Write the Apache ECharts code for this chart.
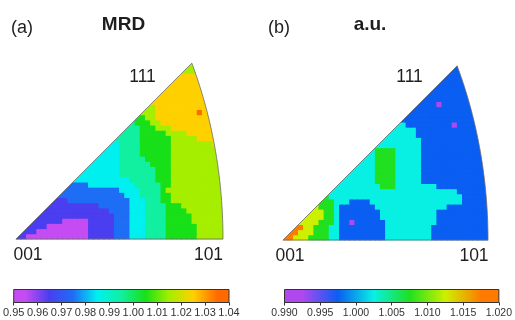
<!DOCTYPE html>
<html><head><meta charset="utf-8">
<script src="https://cdn.jsdelivr.net/npm/echarts@6/dist/echarts.min.js"></script>
<style>html,body{margin:0;padding:0;background:#fff}#c{width:515px;height:320px}</style>
</head><body><div id="c"></div>
<script>
// ---- data: IPF level maps, run-length rows (row 0 = bottom), each row starts at column = row index
// token "LxN" = N cells of level L ; cell size 0.025 in IPF units (001 at 0, 101 at 1)
const ipfA_rows = [
"2x2 1x12 2x5 3x3 4x3 5x4 6x6 7x5",
"2x3 1x10 2x5 3x3 4x3 5x4 6x6 7x5",
"2x4 1x8 2x5 3x3 4x3 5x4 6x6 7x5",
"2x6 1x5 2x5 3x3 4x3 5x4 6x5 7x6",
"2x15 3x3 4x3 5x4 6x5 7x6",
"2x13 3x4 4x3 5x4 6x4 7x7",
"2x10 3x6 4x3 5x4 6x3 7x8",
"2x3 3x12 4x3 5x3 6x2 7x10",
"3x13 4x3 5x4 6x2 7x10",
"3x11 4x4 5x4 6x1 7x11",
"3x4 4x9 5x5 6x2 7x10",
"4x11 5x5 6x3 7x10",
"4x8 5x7 6x3 7x10",
"4x7 5x7 6x3 7x10",
"4x6 5x6 6x4 7x10",
"4x5 5x5 6x5 7x9",
"4x4 5x4 6x6 7x9",
"4x3 5x4 6x6 7x9",
"4x2 5x4 6x6 7x8 8x1",
"5x5 6x6 7x5 8x4",
"5x4 6x5 7x4 8x5",
"5x3 6x3 7x3 8x8",
"5x1 6x3 7x2 8x10",
"6x2 7x2 8x11",
"7x3 8x8 9x1 8x2",
"7x2 8x10",
"8x11",
"8x10",
"8x8",
"8x7",
"8x6",
"8x5",
"7x3",
"7x2"
];
const ipfB_rows = [
"6x2 5x3 4x4 3x2 2x9 3x9 2x11",
"6x2 5x3 4x3 3x2 2x9 3x9 2x11",
"6x2 5x2 4x3 3x2 2x9 3x9 2x11",
"5x4 4x3 3x1 2x2 1x1 2x6 3x10 2x10",
"5x4 4x2 3x1 2x8 3x11 2x10",
"5x3 4x2 3x1 2x8 3x11 2x10",
"5x1 4x3 3x1 2x7 3x14 2x8",
"4x3 3x3 2x4 3x18 2x5",
"4x1 3x26 2x5",
"3x25 2x6",
"3x9 4x3 3x8 2x10",
"3x7 4x4 3x5 2x13",
"3x6 4x4 3x5 2x13",
"3x5 4x4 3x5 2x13",
"3x4 4x4 3x5 2x13",
"3x3 4x4 3x5 2x12",
"3x2 4x4 3x5 2x12",
"3x1 4x4 3x5 2x12",
"3x9 2x12",
"3x8 2x12",
"3x6 2x12",
"3x5 2x12",
"3x2 2x9 1x1 2x4",
"2x15",
"2x14",
"2x12",
"2x4 1x1 2x6",
"2x10",
"2x8",
"2x7",
"2x6",
"2x5",
"2x3",
"2x2"
];
const levelsA = [0.95,0.96,0.97,0.98,0.99,1.00,1.01,1.02,1.03,1.04];
const levelsB = [0.990,0.995,1.000,1.005,1.010,1.015,1.020];
const poleLabels = ['001','101','111'];

// ---- styles
const palA = ['#c44cf2','#4a3ef0','#1e6ef5','#00f0f0','#10f0a0','#18e018','#a6ee00','#ffd000','#ff6a00'];
const palB = ['#b048f0','#0a5ef2','#08f0e4','#20e020','#cdf000','#ff7a00'];
const FONT = '"Liberation Sans", Arial, Helvetica, sans-serif';
const CELL = 0.025;

function decode(rows, levels){
  const out = [];
  rows.forEach((row, r) => {
    let c = r;
    row.trim().split(/\s+/).forEach(tok => {
      const [lv, n] = tok.split('x').map(Number);
      const val = (levels[lv-1] + levels[lv]) / 2;
      for (let i = 0; i < n; i++, c++) out.push([(c+0.5)*CELL, (r+0.5)*CELL, val]);
    });
  });
  return out;
}
const dataA = decode(ipfA_rows, levelsA);
const dataB = decode(ipfB_rows, levelsB);

function arcPts(n){ // equal-area boundary 101 -> 111
  const s = Math.sqrt(1 - Math.SQRT1_2), pts = [];
  for (let i = 0; i <= n; i++){
    const t = i/n, cosT = 1/Math.sqrt(2+t*t), R = Math.sqrt(1-cosT)/s, a = Math.atan(t);
    pts.push([R*Math.cos(a), R*Math.sin(a)]);
  }
  return pts;
}
const ARC = arcPts(80);

function cellItem(params, api){
  const u = api.value(0), v = api.value(1), h = CELL/2;
  const p0 = api.coord([u-h, v+h]), p1 = api.coord([u+h, v-h]);
  return {type:'rect', shape:{x:p0[0]-0.4, y:p0[1]-0.4, width:p1[0]-p0[0]+0.8, height:p1[1]-p0[1]+0.8},
          style:{fill:api.visual('color')}};
}
function frameItem(params, api){
  const P = p => api.coord(p);
  const ax = ARC[ARC.length-1], top = 0.865;
  const maskL = [[-0.1,0],[0,0],ax,[ax[0],top],[-0.1,top]].map(P);
  const maskR = ARC.concat([[ax[0],top],[1.15,top],[1.15,0]]).map(P);
  const outline = [[0,0]].concat(ARC).concat([[0,0]]).map(P);
  return {type:'group', children:[
    {type:'polygon', shape:{points:maskL}, style:{fill:'#fff'}},
    {type:'polygon', shape:{points:maskR}, style:{fill:'#fff'}},
    {type:'polyline', shape:{points:outline}, style:{stroke:'#6a6a6a', lineWidth:0.8, fill:null}}
  ]};
}
function gradStops(pal){
  const n = pal.length, st = [{offset:0, color:pal[0]}];
  pal.forEach((c,i) => st.push({offset:(i+0.5)/n, color:c}));
  st.push({offset:1, color:pal[n-1]});
  return st;
}
function barItem(pal){
  return (params, api) => {
    const p0 = api.coord([api.value(0), 1]), p1 = api.coord([api.value(1), 0]);
    return {type:'rect', shape:{x:p0[0], y:p0[1], width:p1[0]-p0[0], height:p1[1]-p0[1]},
      style:{fill:new echarts.graphic.LinearGradient(0,0,1,0,gradStops(pal)), stroke:'#333', lineWidth:1}};
  };
}
function pieces(levels, pal){
  return pal.map((c,i) => ({gte:levels[i], lt:levels[i+1], color:c}));
}
function cbAxis(gi, levels, dec, fs){
  return {gridIndex:gi, type:'value', min:levels[0], max:levels[levels.length-1],
    interval:+(levels[1]-levels[0]).toFixed(4), position:'bottom',
    axisLine:{show:true, onZero:false, lineStyle:{color:'#333', width:1}},
    axisTick:{show:true, length:3, lineStyle:{color:'#333'}},
    axisLabel:{show:true, fontSize:fs, color:'#333', margin:5, fontFamily:FONT,
      showMinLabel:true, showMaxLabel:true, formatter:v => v.toFixed(dec)},
    splitLine:{show:false}};
}
function txt(text, x, y, size, bold, align){
  return {type:'text', x, y, z:100,
    style:{text, font:(bold?'bold ':'')+size+'px '+FONT, fill:'#1e1e1e',
      textAlign:align||'center', textVerticalAlign:'middle', align:align||'center', verticalAlign:'middle'}};
}

const chart = echarts.init(document.getElementById('c'), null, {renderer:'canvas', width:515, height:320});
chart.setOption({
  animation:false,
  backgroundColor:'#fff',
  grid:[
    {left:16, top:63.05, width:207, height:175.95},
    {left:283, top:65.75, width:205, height:174.25},
    {left:13.5, top:289.5, width:215.5, height:13},
    {left:284.5, top:289.5, width:215, height:13}
  ],
  xAxis:[
    {gridIndex:0, type:'value', min:0, max:1, show:false},
    {gridIndex:1, type:'value', min:0, max:1, show:false},
    cbAxis(2, levelsA, 2, 11),
    cbAxis(3, levelsB, 3, 10.5)
  ],
  yAxis:[
    {gridIndex:0, type:'value', min:0, max:0.85, show:false},
    {gridIndex:1, type:'value', min:0, max:0.85, show:false},
    {gridIndex:2, type:'value', min:0, max:1, show:false},
    {gridIndex:3, type:'value', min:0, max:1, show:false}
  ],
  visualMap:[
    {type:'piecewise', show:false, seriesIndex:0, dimension:2, pieces:pieces(levelsA, palA)},
    {type:'piecewise', show:false, seriesIndex:2, dimension:2, pieces:pieces(levelsB, palB)}
  ],
  series:[
    {type:'custom', xAxisIndex:0, yAxisIndex:0, data:dataA, renderItem:cellItem, z:2, silent:true},
    {type:'custom', xAxisIndex:0, yAxisIndex:0, data:[[0,0]], renderItem:frameItem, z:5, silent:true},
    {type:'custom', xAxisIndex:1, yAxisIndex:1, data:dataB, renderItem:cellItem, z:2, silent:true},
    {type:'custom', xAxisIndex:1, yAxisIndex:1, data:[[0,0]], renderItem:frameItem, z:5, silent:true},
    {type:'custom', xAxisIndex:2, yAxisIndex:2, data:[[levelsA[0], levelsA[levelsA.length-1]]], renderItem:barItem(palA), silent:true},
    {type:'custom', xAxisIndex:3, yAxisIndex:3, data:[[levelsB[0], levelsB[levelsB.length-1]]], renderItem:barItem(palB), silent:true}
  ],
  graphic:[
    txt('(a)', 11, 28, 18, false, 'left'),
    txt('MRD', 123.5, 25, 19, true),
    txt('(b)', 268, 28, 18, false, 'left'),
    txt('a.u.', 370, 25, 19, true),
    txt(poleLabels[2], 142.5, 77, 17.5),
    txt(poleLabels[2], 409.5, 77, 17.5),
    txt(poleLabels[0], 28, 255, 17.5),
    txt(poleLabels[1], 208.5, 255, 17.5),
    txt(poleLabels[0], 290, 256, 17.5),
    txt(poleLabels[1], 474, 256, 17.5)
  ]
});
</script></body></html>
